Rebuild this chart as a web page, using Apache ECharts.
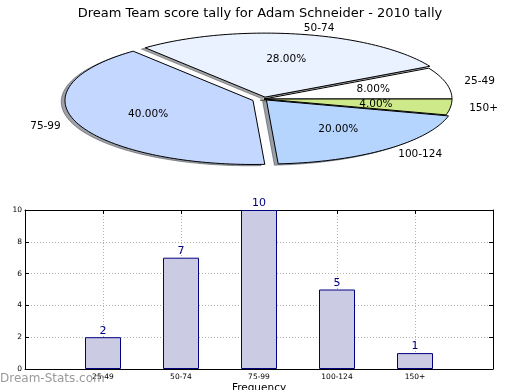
<!DOCTYPE html>
<html>
<head>
<meta charset="utf-8">
<script src="https://cdn.jsdelivr.net/npm/echarts@6/dist/echarts.min.js"></script>
<style>
html,body{margin:0;padding:0;background:#fff;}
#chart{width:520px;height:390px;}
</style>
</head>
<body>
<div id="chart"></div>
<script>
// ---- data ----
const chartTitle = 'Dream Team score tally for Adam Schneider - 2010 tally';
const categories = ['25-49', '50-74', '75-99', '100-124', '150+'];
const counts = [2, 7, 10, 5, 1];
const yTicks = [0, 2, 4, 6, 8, 10];

// ---- styles ----
const FONT = 'DejaVu Sans';
const pieColors = ['#ffffff', '#ebf2ff', '#c3d7ff', '#b5d5ff', '#cde98a'];
const pieExplode = [0, 0.03, 0.063, 0.02, 0];
const pieGeom = { cx: 264, cy: 99, rx: 188, ry: 64 };

function hexToRgb(h) {
  const n = parseInt(h.slice(1), 16);
  return [(n >> 16) & 255, (n >> 8) & 255, n & 255];
}

const total = counts.reduce((s, v) => s + v, 0);

function renderSlice(params, api) {
  const i = params.dataIndex;
  const val = api.value(0);
  let before = 0;
  for (let j = 0; j < i; j++) before += counts[j];
  const t1 = before / total * Math.PI * 2;
  const t2 = (before + val) / total * Math.PI * 2;
  const mid = (t1 + t2) / 2;
  const { cx, cy, rx, ry } = pieGeom;
  const e = pieExplode[i];
  const ox = cx + e * rx * Math.cos(mid);
  const oy = cy - e * ry * Math.sin(mid);
  const pts = [[ox, oy]];
  const steps = Math.max(6, Math.ceil((t2 - t1) / (Math.PI * 2) * 240));
  for (let k = 0; k <= steps; k++) {
    const t = t1 + (t2 - t1) * k / steps;
    pts.push([ox + rx * Math.cos(t), oy - ry * Math.sin(t)]);
  }
  const sdx = -0.02 * rx, sdy = 0.02 * ry;
  const shadowPts = pts.map(p => [p[0] + sdx, p[1] + sdy]);
  const rgb = hexToRgb(pieColors[i]);
  const sc = 'rgba(' + rgb.map(c => Math.round(c * 0.3)).join(',') + ',0.5)';
  const pct = (val / total * 100).toFixed(2) + '%';
  const c = Math.cos(mid), s = Math.sin(mid);
  return {
    type: 'group',
    children: [
      { type: 'polygon', shape: { points: shadowPts }, style: { fill: sc, stroke: sc, lineWidth: 1 }, z2: 0 },
      { type: 'polygon', shape: { points: pts }, style: { fill: pieColors[i], stroke: '#000', lineWidth: 1 }, z2: 10 },
      { type: 'text', z2: 20, style: {
          text: pct, x: ox + 0.6 * rx * c, y: oy - 0.6 * ry * s,
          align: 'center', verticalAlign: 'middle',
          fontFamily: FONT, fontSize: 10.5, fill: '#000' } },
      { type: 'text', z2: 20, style: {
          text: categories[i], x: ox + 1.1 * rx * c, y: oy - 1.1 * ry * s,
          align: c > 0 ? 'left' : 'right', verticalAlign: 'middle',
          fontFamily: FONT, fontSize: 10.5, fill: '#000' } }
    ]
  };
}

const chart = echarts.init(document.getElementById('chart'), null, { renderer: 'canvas' });

const dotted = { show: true, lineStyle: { color: '#b0b0b0', type: [1, 2], width: 1 } };
const boxLine = { show: true, onZero: false, lineStyle: { color: '#000', width: 1 } };
const inTick = { show: true, inside: true, length: 4, lineStyle: { color: '#000' } };

const option = {
  animation: false,
  backgroundColor: '#fff',
  textStyle: { fontFamily: FONT },
  title: {
    text: chartTitle, left: 'center', top: 2,
    textStyle: { fontFamily: FONT, fontSize: 13, fontWeight: 'normal', color: '#000' }
  },
  grid: { left: 25, right: 27, top: 210, bottom: 21, containLabel: false, outerBoundsMode: 'none' },
  xAxis: [
    {
      type: 'value', min: 0, max: categories.length + 1, interval: 1,
      position: 'bottom',
      name: 'Frequency', nameLocation: 'middle', nameGap: 14,
      nameTextStyle: { fontFamily: FONT, fontSize: 10.5, color: '#000' },
      axisLine: boxLine,
      axisTick: inTick,
      axisLabel: {
        margin: 4, fontFamily: FONT, fontSize: 7.5, color: '#000',
        formatter: v => categories[v - 1] || ''
      },
      splitLine: dotted
    },
    {
      type: 'value', min: 0, max: categories.length + 1, interval: 1,
      position: 'top',
      axisLine: boxLine,
      axisTick: inTick,
      axisLabel: { show: false },
      splitLine: { show: false }
    }
  ],
  yAxis: [
    {
      type: 'value', min: yTicks[0], max: yTicks[yTicks.length - 1], interval: yTicks[1] - yTicks[0],
      position: 'left',
      name: 'Stat Intervals', nameLocation: 'middle', nameGap: 14,
      nameTextStyle: { fontFamily: FONT, fontSize: 10.5, color: '#000' },
      axisLine: boxLine,
      axisTick: inTick,
      axisLabel: { margin: 3, fontFamily: FONT, fontSize: 7.5, color: '#000' },
      splitLine: dotted
    },
    {
      type: 'value', min: yTicks[0], max: yTicks[yTicks.length - 1], interval: yTicks[1] - yTicks[0],
      position: 'right',
      axisLine: boxLine,
      axisTick: inTick,
      axisLabel: { show: false },
      splitLine: { show: false }
    }
  ],
  graphic: [
    { type: 'text', left: 0, top: 373, z: 100,
      style: { text: 'Dream-Stats.com', fontFamily: FONT, fontSize: 12, fill: '#9a9a9a' } }
  ],
  series: [
    {
      type: 'custom',
      coordinateSystem: 'none',
      renderItem: renderSlice,
      data: counts.map((v, i) => ({ value: [v], name: categories[i] }))
    },
    {
      type: 'bar',
      xAxisIndex: 0, yAxisIndex: 0,
      barWidth: 36,
      data: counts.map((v, i) => [i + 1, v]),
      itemStyle: { color: '#cbcbe4', borderColor: '#000080', borderWidth: 1 },
      label: {
        show: true, position: 'top', distance: 1,
        fontFamily: FONT, fontSize: 11, color: '#000080',
        formatter: p => String(p.value[1])
      }
    }
  ]
};
chart.setOption(option);
</script>
</body>
</html>
